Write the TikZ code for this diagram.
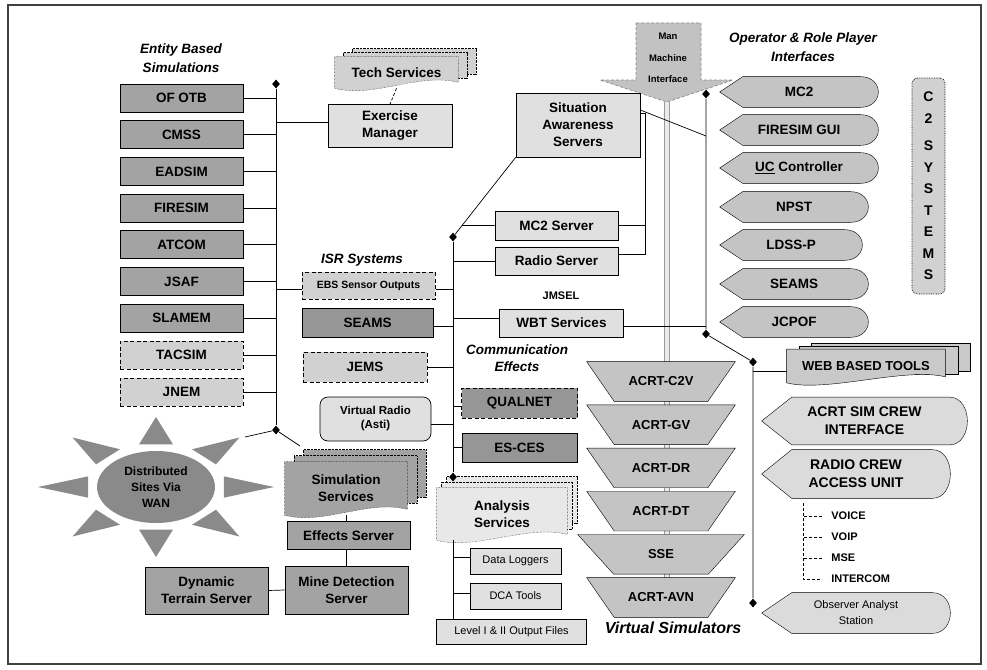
\documentclass[tikz,border=0pt]{standalone}
\usepackage{fontspec}
\setmainfont{Liberation Sans}
\usetikzlibrary{positioning,calc,backgrounds,shapes.geometric}
\definecolor{simgray}{gray}{0.64}
\definecolor{isrgray}{gray}{0.59}
\definecolor{srvgray}{gray}{0.88}
\definecolor{pendgray}{gray}{0.82}
\definecolor{opgray}{gray}{0.77}
\definecolor{crewgray}{gray}{0.86}
\definecolor{wangray}{gray}{0.54}
\definecolor{anlgray}{gray}{0.91}
\definecolor{webgray}{gray}{0.79}
\definecolor{mmigray}{gray}{0.76}
\newcommand{\boxfont}{\fontsize{13.5}{17}\selectfont\bfseries}
\newcommand{\grpfont}{\fontsize{13.5}{19}\selectfont\bfseries\itshape}
\newcommand{\smfont}{\fontsize{11}{14}\selectfont}
\newcommand{\lblfont}{\fontsize{11}{14}\selectfont\bfseries}
\newcommand{\ebsfont}{\fontsize{10.5}{13}\selectfont\bfseries}
\newcommand{\radfont}{\fontsize{11.5}{14}\selectfont\bfseries}
\newcommand{\wanfont}{\fontsize{12}{16}\selectfont\bfseries}
\newcommand{\mmifont}{\fontsize{9.5}{21.5}\selectfont\bfseries}
\newcommand{\csfont}{\fontsize{14}{21.5}\selectfont\bfseries}
\newcommand{\webfont}{\fontsize{13}{16}\selectfont\bfseries}
\newcommand{\crewfont}{\fontsize{14}{18}\selectfont\bfseries}
\newcommand{\obsfont}{\fontsize{11}{16}\selectfont}
\newcommand{\vsfont}{\fontsize{16}{19}\selectfont\bfseries\itshape}
\newcommand{\trapfont}{\fontsize{13}{16}\selectfont\bfseries}
\newcommand{\docstack}[5]{%
  \begin{scope}[on background layer]
    \foreach \k in {2,1}
      \path[draw,fill=#2,#3] ($(#1.north west)+(#4*\k,-#5*\k)$) rectangle ($(#1.south east)+(#4*\k,-#5*\k-6)$);
    \path[draw,fill=#2,#3] (#1.north west) -- (#1.north east) -- ($(#1.south east)+(0,-6)$) .. controls +(-40,-10) and +(40,10) .. (#1.south west) -- cycle;
  \end{scope}}
\newcommand{\dispshape}[3]{%
  \begin{scope}[on background layer]
    \path[draw,fill=#3] (#1.west) -- ($(#1.north west)+(#2,0)$) -- ($(#1.north east)+(-18,0)$) .. controls ($(#1.north east)+(6,0)$) and ($(#1.south east)+(6,0)$) .. ($(#1.south east)+(-18,0)$) -- ($(#1.south west)+(#2,0)$) -- cycle;
  \end{scope}}
\newcommand{\trapshape}[2]{%
  \begin{scope}[on background layer]
    \path[draw,fill=opgray] (#1.north west) -- (#1.north east) -- ($(#1.south east)+(-#2,0)$) -- ($(#1.south west)+(#2,0)$) -- cycle;
  \end{scope}}
\begin{document}
\begin{tikzpicture}[x=1pt,y=-1pt,line width=0.7pt,
every node/.style={font=\boxfont,align=center,inner sep=1pt},
simbox/.style={draw,fill=simgray,minimum width=123pt,minimum height=28pt},
pendbox/.style={simbox,dash pattern=on 4pt off 2.5pt,line width=1pt,fill=pendgray},
srvbox/.style={draw,fill=srvgray,minimum width=123pt,minimum height=28pt},
grp/.style={font=\grpfont},
junc/.style={diamond,fill=black,inner sep=0pt,minimum width=8pt,minimum height=9pt},
opnode/.style={minimum height=30pt},
vsim/.style={minimum width=148pt,minimum height=39pt,font=\trapfont},
tree/.style={densely dashed,line width=0.5pt}]
\useasboundingbox (0,0) rectangle (987,669);
\draw[line width=1.2pt,black!75] (8,5) rectangle (981,664);

\node[grp] (entlbl) at (181,58) {Entity Based\\Simulations};
\node[simbox] (ofotb) at (181.5,98) {OF OTB};
\node[simbox,below=8pt of ofotb] (cmss) {CMSS};
\node[simbox,below=8pt of cmss] (eadsim) {EADSIM};
\node[simbox,below=8pt of eadsim] (firesim) {FIRESIM};
\node[simbox,below=8pt of firesim] (atcom) {ATCOM};
\node[simbox,below=8pt of atcom] (jsaf) {JSAF};
\node[simbox,below=8pt of jsaf] (slamem) {SLAMEM};
\node[pendbox,below=8pt of slamem] (tacsim) {TACSIM};
\node[pendbox,below=8pt of tacsim] (jnem) {JNEM};
\node[junc] (lbtop) at (276,84) {};
\node[junc] (lbbot) at (276,430) {};
\draw (lbtop) -- (lbbot);
\foreach \n in {ofotb,cmss,eadsim,firesim,atcom,jsaf,slamem,tacsim,jnem}
  \draw (\n.east) -- (\n.east -| lbtop);

\node[srvbox,minimum width=124pt,minimum height=43pt] (exmgr) at (390,126) {Exercise\\Manager};
\node[minimum width=123pt,minimum height=31pt] (tech) at (396.5,72.5) {Tech Services};
\docstack{tech}{pendgray}{densely dotted}{9}{4}
\draw ([yshift=4pt]exmgr.west) -- ([yshift=4pt]exmgr.west -| lbtop);
\draw[densely dashed] (tech.south) -- (exmgr.north);

\path[draw=black!45,densely dashed,fill=mmigray] (636,23) -- (701,23) -- (701,80) -- (733,80) -- (667,102) -- (600,80) -- (636,80) -- cycle;
\node[font=\mmifont] (mmi) at (668,58) {Man\\Machine\\Interface};
\coordinate (mmitip) at (667,102);
\coordinate (mmiend) at (667,605);
\begin{scope}[on background layer]
  \draw[draw=black!40,double=black!8,double distance=3.5pt,line width=0.8pt] (mmitip) -- (mmiend);
\end{scope}

\node[junc] (rbtop) at (706,94) {};
\node[junc] (rbbot) at (706,334) {};
\node[junc] (wbdot) at (753,362) {};
\node[junc] (obsdot) at (753,603) {};
\draw (rbtop) -- (rbbot) -- (wbdot) -- (obsdot);

\node[srvbox,minimum width=124pt,minimum height=64pt] (sa) at (578,125) {Situation\\Awareness\\Servers};
\node[srvbox,minimum height=29pt] (mcsrv) at (556.5,225.5) {MC2 Server};
\node[srvbox] (rdsrv) at (556.5,261) {Radio Server};
\node[junc] (mbtop) at (453,237) {};
\node[junc] (mbbot) at (453,477) {};
\coordinate (sahit) at (706,136);
\draw (sa.south west) -- (mbtop);
\draw (mbtop) -- (mbbot);
\draw ([yshift=15pt]sa.east) -- (sahit);
\draw (mcsrv.west) -- (intersection of mcsrv.west--mcsrv.east and sa.south west--mbtop);
\draw (rdsrv.west) -- (rdsrv.west -| mbtop);
\draw ([yshift=12pt]sa.east) -- ++(5,0) coordinate (sadrop) |- ([yshift=7pt]rdsrv.east);
\draw (mcsrv.east) -- (mcsrv.east -| sadrop);

\node[grp] (isrlbl) at (362,260) {ISR Systems};
\node[pendbox,minimum width=133pt,minimum height=27pt,font=\ebsfont] (ebs) at (368.5,285.5) {EBS Sensor Outputs};
\node[simbox,fill=isrgray,minimum width=131pt,minimum height=29pt] (isrseams) at (367.5,323) {SEAMS};
\node[pendbox,minimum width=124pt,minimum height=30pt] (jems) at (365,367) {JEMS};
\node[srvbox,rounded corners=8pt,minimum width=111pt,minimum height=44pt,font=\radfont] (vradio) at (375.5,419) {Virtual Radio\\(Asti)};
\draw ([yshift=-4pt]ebs.west) -- ([yshift=-4pt]ebs.west -| lbtop);
\draw ([yshift=-4pt]ebs.east) -- ([yshift=-4pt]ebs.east -| mbtop);
\draw ([yshift=-3pt]isrseams.east) -- ([yshift=-3pt]isrseams.east -| mbtop);
\draw (jems.east) -- (jems.east -| mbtop);
\draw ([yshift=-5pt]vradio.east) -- ([yshift=-5pt]vradio.east -| mbtop);

\node[font=\lblfont] (jmsel) at (561,296) {JMSEL};
\node[srvbox,minimum width=124pt] (wbt) at (561.5,323) {WBT Services};
\draw ([yshift=5pt]wbt.west) -- ([yshift=5pt]wbt.west -| mbtop);
\draw ([yshift=-3pt]wbt.east) -- ([yshift=-3pt]wbt.east -| rbtop);

\node[grp,font=\fontsize{13.5}{17}\selectfont\bfseries\itshape] (comlbl) at (517,358) {Communication\\Effects};
\node[pendbox,fill=isrgray,minimum width=116pt,minimum height=30pt] (qual) at (519.5,403) {QUALNET};
\node[simbox,fill=isrgray,minimum width=115pt,minimum height=29pt] (esces) at (519.5,447.5) {ES-CES};
\draw ([yshift=-3pt]qual.west) -- ([yshift=-3pt]qual.west -| mbtop);
\draw (esces.west) -- (esces.west -| mbtop);

\node[minimum width=130pt,minimum height=52pt] (anl) at (502,514) {Analysis\\Services};
\docstack{anl}{anlgray}{densely dotted}{5}{5.5}
\node[srvbox,font=\smfont,minimum width=91pt,minimum height=26pt] (dlog) at (515.5,561) {Data Loggers};
\node[srvbox,font=\smfont,minimum width=91pt,minimum height=26pt] (dca) at (515.5,596) {DCA Tools};
\node[srvbox,font=\smfont,minimum width=150pt,minimum height=25pt] (lvl) at (511.5,631.5) {Level I \& II Output Files};
\draw (anl.south -| mbbot) -- (lvl.north -| mbbot);
\draw ([yshift=4pt]dlog.west) -- ([yshift=4pt]dlog.west -| mbbot);
\draw ([yshift=3pt]dca.west) -- ([yshift=3pt]dca.west -| mbbot);

\coordinate (wanlink) at (245,437);
\coordinate (simlink) at (300,446);
\draw (lbbot) -- (wanlink);
\draw (lbbot) -- (simlink);
\node[minimum width=122pt,minimum height=53pt] (simsv) at (346,488.5) {Simulation\\Services};
\docstack{simsv}{simgray}{densely dotted}{9.5}{6}
\node[simbox] (effs) at (348.5,535.5) {Effects Server};
\node[simbox,minimum height=48pt] (mine) at (346.5,590) {Mine Detection\\Server};
\node[simbox,minimum height=47pt] (dyn) at (206.5,590.5) {Dynamic\\Terrain Server};
\draw (simsv.south) -- (simsv.south |- effs.north);
\draw (effs.south -| mine.north) -- (mine.north);
\draw (dyn.east) -- (mine.west);

\node[ellipse,fill=wangray,minimum width=118pt,minimum height=72pt,font=\wanfont] (wan) at (156,487) {Distributed\\Sites Via\\WAN};
\begin{scope}[shift={(wan.center)}]
  \foreach \a in {0,45,...,315}
    \fill[wangray] (\a:118 and 70) -- (\a+14:70 and 44) -- (\a-14:70 and 44) -- cycle;
\end{scope}

\node[grp] (oplbl) at (803,47) {Operator \& Role Player\\Interfaces};
\foreach \n/\y/\w/\t in {mc2/92/158/MC2,fsgui/130/158/FIRESIM GUI,ucc/168/158/{\underline{UC} Controller},npst/207/148/NPST,ldss/245/142/LDSS-P,oseams/284/148/SEAMS,jcpof/322/148/JCPOF}{
  \node[opnode,minimum width=\w pt] (\n) at (720+\w/2,\y) {\t};
  \dispshape{\n}{23}{opgray}
}
\node[draw,densely dotted,rounded corners=5pt,fill=pendgray,minimum width=33pt,minimum height=216pt,font=\csfont] (c2sys) at (928.5,186) {C\\2\\[6pt]S\\Y\\S\\T\\E\\M\\S};

\node[minimum width=158pt,minimum height=33pt,font=\webfont] (web) at (866,366) {WEB BASED TOOLS};
\docstack{web}{webgray}{}{12.5}{3}
\draw ([yshift=-5pt]web.west) -- ([yshift=-5pt]web.west -| wbdot);

\node[opnode,font=\crewfont,minimum width=205pt,minimum height=47pt] (acrt) at (864.5,421) {ACRT SIM CREW\\INTERFACE};
\dispshape{acrt}{30}{crewgray}
\node[opnode,font=\crewfont,minimum width=188pt,minimum height=48pt] (radio) at (856,474) {RADIO CREW\\ACCESS UNIT};
\dispshape{radio}{30}{crewgray}
\node[opnode,font=\obsfont,minimum width=188pt,minimum height=40pt] (obs) at (856,613) {Observer Analyst\\Station};
\dispshape{obs}{30}{crewgray}

\node[anchor=west,font=\lblfont] (voice) at (830,516) {VOICE};
\node[anchor=west,font=\lblfont] (voip) at (830,537) {VOIP};
\node[anchor=west,font=\lblfont] (mse) at (830,558) {MSE};
\node[anchor=west,font=\lblfont] (icom) at (830,579) {INTERCOM};
\coordinate (vtop) at (803,503);
\draw[tree] (vtop) |- ([xshift=-8pt]icom.west);
\foreach \n in {voice,voip,mse}
  \draw[tree] ([xshift=-8pt]\n.west) -- (\n.west -| vtop);

\node[vsim] (c2v) at (661,381.5) {ACRT-C2V};
\node[vsim,below=3.5pt of c2v] (gv) {ACRT-GV};
\node[vsim,below=3.5pt of gv] (dr) {ACRT-DR};
\node[vsim,below=3.5pt of dr] (dt) {ACRT-DT};
\node[vsim,below=3.5pt of dt,minimum width=166pt] (sse) {SSE};
\node[vsim,below=3.5pt of sse] (avn) {ACRT-AVN};
\foreach \n in {c2v,gv,dr,dt,avn}{
  \trapshape{\n}{27.5}
}
\trapshape{sse}{36}
\node[font=\vsfont] (vslbl) at (673,628) {Virtual Simulators};
\end{tikzpicture}
\end{document}
